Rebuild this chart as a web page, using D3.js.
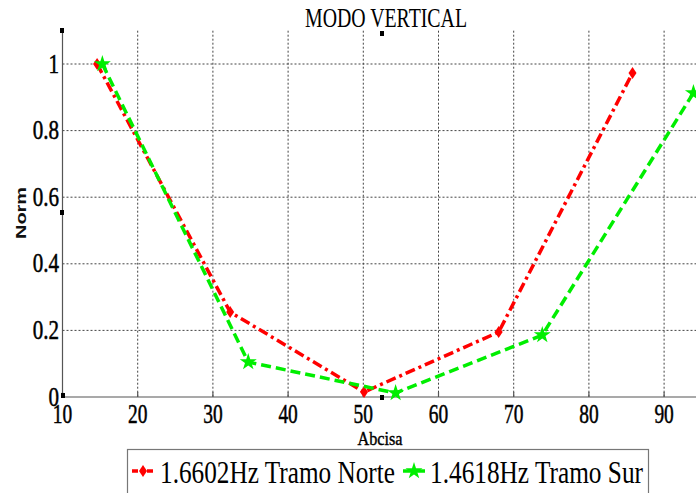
<!DOCTYPE html>
<html>
<head>
<meta charset="utf-8">
<script src="https://cdn.jsdelivr.net/npm/d3@7"></script>
<style>
  body { margin: 0; background: #fff; }
  svg { display: block; }
</style>
</head>
<body>
<div id="chart"></div>
<script>
// values
const norteX = [14.6, 32.3, 50.1, 68.0, 85.8];
const norteY = [1.0, 0.255, 0.015, 0.195, 0.973];
const surX = [15.3, 34.7, 54.3, 73.8, 93.9];
const surY = [1.0, 0.105, 0.012, 0.186, 0.913];
const xTicks = [10, 20, 30, 40, 50, 60, 70, 80, 90];
const yTicks = [0, 0.2, 0.4, 0.6, 0.8, 1];
const yTickLabels = ["0", "0.2", "0.4", "0.6", "0.8", "1"];
const seriesNames = ["1.6602Hz Tramo Norte", "1.4618Hz Tramo Sur"];

const width = 696, height = 493;
const serif = "'Liberation Serif', 'Times New Roman', serif";

const svg = d3.select("#chart").append("svg")
    .attr("width", width)
    .attr("height", height);

const xScale = d3.scaleLinear().domain([10, 95]).range([62.5, 701.7]);
const yScale = d3.scaleLinear().domain([0, 1.1]).range([397, 30.7]);

// squash text horizontally like the original
function squash(sel, f) {
    sel.each(function() {
        let w = this.getComputedTextLength();
        d3.select(this).attr("textLength", w * f).attr("lengthAdjust", "spacingAndGlyphs");
    });
}

// grid
let grid = svg.append("g").attr("stroke", "#444").attr("stroke-width", 1)
    .attr("stroke-dasharray", "2,2");
grid.selectAll("line.v")
    .data(xTicks.slice(1))
    .join("line")
    .attr("class", "v")
    .attr("x1", d => xScale(d)).attr("x2", d => xScale(d))
    .attr("y1", yScale(1.1)).attr("y2", yScale(0));
grid.selectAll("line.h")
    .data(yTicks.slice(1))
    .join("line")
    .attr("class", "h")
    .attr("x1", xScale(10)).attr("x2", width)
    .attr("y1", d => yScale(d)).attr("y2", d => yScale(d));

// axes
let axes = svg.append("g").attr("stroke", "#555").attr("stroke-width", 1.2);
axes.append("line")
    .attr("x1", xScale(10)).attr("x2", width)
    .attr("y1", yScale(0)).attr("y2", yScale(0));
axes.append("line")
    .attr("x1", xScale(10)).attr("x2", xScale(10))
    .attr("y1", yScale(0)).attr("y2", yScale(1.1));
axes.selectAll("line.tx")
    .data(xTicks)
    .join("line")
    .attr("class", "tx")
    .attr("x1", d => xScale(d)).attr("x2", d => xScale(d))
    .attr("y1", yScale(0)).attr("y2", yScale(0) - 5);

// tick labels
svg.append("g")
    .selectAll("text")
    .data(xTicks)
    .join("text")
    .attr("font-family", serif)
    .attr("fill", "#000")
    .attr("stroke", "#000").attr("stroke-width", 0.5)
    .attr("x", d => xScale(d))
    .attr("y", 423)
    .attr("text-anchor", "middle")
    .attr("font-size", 27)
    .text(d => d)
    .call(squash, 0.72);

svg.append("g")
    .selectAll("text")
    .data(yTicks)
    .join("text")
    .attr("font-family", serif)
    .attr("fill", "#000")
    .attr("stroke", "#000").attr("stroke-width", 0.5)
    .attr("x", 59)
    .attr("y", d => yScale(d) + 8.5)
    .attr("text-anchor", "end")
    .attr("font-size", 27)
    .text((d, i) => yTickLabels[i])
    .call(squash, 0.78);

// title and axis labels
svg.append("text")
    .attr("font-family", serif)
    .attr("fill", "#000")
    .attr("x", 386).attr("y", 27)
    .attr("text-anchor", "middle")
    .attr("font-size", 27)
    .attr("textLength", 162)
    .attr("lengthAdjust", "spacingAndGlyphs")
    .text("MODO VERTICAL");

svg.append("text")
    .attr("font-family", serif)
    .attr("fill", "#000")
    .attr("stroke", "#000").attr("stroke-width", 0.4)
    .attr("x", 380).attr("y", 445)
    .attr("text-anchor", "middle")
    .attr("font-size", 19)
    .attr("textLength", 45)
    .attr("lengthAdjust", "spacingAndGlyphs")
    .text("Abcisa");

svg.append("text")
    .attr("transform", "translate(26,213) rotate(-90)")
    .attr("text-anchor", "middle")
    .attr("font-family", "'Liberation Sans', Arial, sans-serif")
    .attr("font-weight", "bold")
    .attr("font-size", 15)
    .attr("fill", "#111")
    .attr("textLength", 52)
    .attr("lengthAdjust", "spacingAndGlyphs")
    .text("Norm");

// series
const diamond = "M0,-6L4,0L0,6L-4,0Z";
const star = d3.symbol().type(d3.symbolStar).size(90)();

const series = [
    {xs: norteX, ys: norteY, color: "#ff0000", dash: "10,4,3,4", marker: diamond},
    {xs: surX, ys: surY, color: "#00ee00", dash: "10,5", marker: star}
];

let line = d3.line().x(d => xScale(d[0])).y(d => yScale(d[1]));

series.forEach(s => {
    let pts = s.xs.map((x, i) => [x, s.ys[i]]);
    svg.append("path")
        .datum(pts)
        .attr("d", line)
        .attr("fill", "none")
        .attr("stroke", s.color)
        .attr("stroke-width", 3.5)
        .attr("stroke-dasharray", s.dash);
    svg.append("g")
        .selectAll("path")
        .data(pts)
        .join("path")
        .attr("transform", d => "translate(" + xScale(d[0]) + "," + yScale(d[1]) + ")")
        .attr("d", s.marker)
        .attr("fill", s.color);
});

// legend
let legend = svg.append("g");
legend.append("rect")
    .attr("x", 127.5).attr("y", 449.5)
    .attr("width", 521).attr("height", 60)
    .attr("fill", "#fff")
    .attr("stroke", "#777")
    .attr("stroke-width", 1.2);

const legendX = [132, 403];
const legendTextX = [160, 430];
const legendW = [235, 213];
series.forEach((s, i) => {
    legend.append("line")
        .attr("x1", legendX[i]).attr("x2", legendX[i] + 22)
        .attr("y1", 471).attr("y2", 471)
        .attr("stroke", s.color)
        .attr("stroke-width", 3.5)
        .attr("stroke-dasharray", i == 0 ? "6,3,3,3" : "22");
    legend.append("path")
        .attr("transform", "translate(" + (legendX[i] + 11) + ",471)")
        .attr("d", s.marker)
        .attr("fill", s.color);
    legend.append("text")
        .attr("font-family", serif)
        .attr("fill", "#000")
        .attr("x", legendTextX[i]).attr("y", 483)
        .attr("font-size", 32)
        .attr("textLength", legendW[i])
        .attr("lengthAdjust", "spacingAndGlyphs")
        .text(seriesNames[i]);
});

// little black handles seen in the original
const handles = [[62, 31], [382, 34], [62, 213], [382, 398], [63, 396]];
svg.append("g")
    .selectAll("rect")
    .data(handles)
    .join("rect")
    .attr("x", d => d[0] - 2).attr("y", d => d[1] - 3)
    .attr("width", 4).attr("height", 5)
    .attr("fill", "#000");
</script>
</body>
</html>
